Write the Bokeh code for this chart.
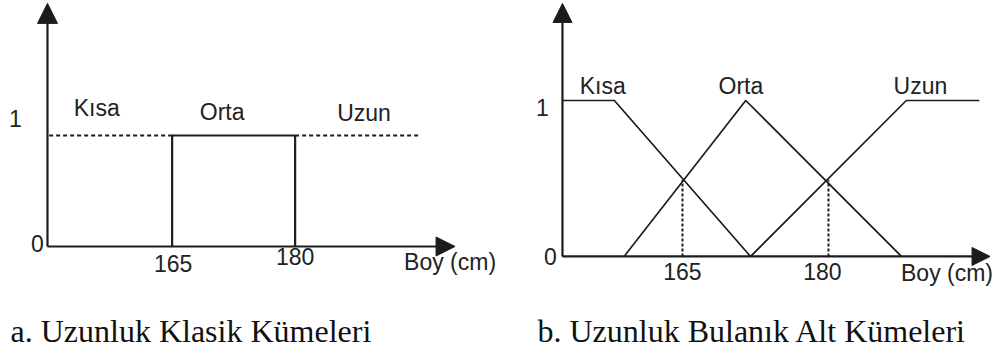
from bokeh.plotting import figure
from bokeh.layouts import row
from bokeh.models import Range1d, Arrow, NormalHead
from bokeh.core.properties import value
from bokeh.embed import file_html
from bokeh.resources import INLINE

# ---------------- data ----------------
set_names = ["Kısa", "Orta", "Uzun"]
x_ticks = [165, 180]
x_tick_labels = ["165", "180"]
y_ticks = [0, 1]
y_tick_labels = ["0", "1"]
x_title = "Boy (cm)"

# (a) crisp sets
crisp_kisa_x = [150, 165]
crisp_kisa_y = [1, 1]
crisp_orta_x = [165, 165, 180, 180]
crisp_orta_y = [0, 1, 1, 0]
crisp_uzun_x = [180, 195.2]
crisp_uzun_y = [1, 1]

# (b) fuzzy subsets
fuzzy_kisa_x = [152.7, 158, 172]
fuzzy_kisa_y = [1, 1, 0]
fuzzy_orta_x = [159, 171.5, 187.5]
fuzzy_orta_y = [0, 1, 0]
fuzzy_uzun_x = [172, 188, 195.5]
fuzzy_uzun_y = [0, 1, 1]
cross_y = [0.49, 0.49]

captions = ["a. Uzunluk Klasik Kümeleri", "b. Uzunluk Bulanık Alt Kümeleri"]

# ---------------- style ----------------
INK = "#1c1c1c"
TXT = "#222222"
SANS = value("Liberation Sans")
SERIF = value("Liberation Serif")
FS = "23px"
W, H = 499, 355


def base_fig(xr, yr):
    p = figure(width=W, height=H, output_backend="svg", toolbar_location=None,
               x_axis_location=None, y_axis_location=None,
               x_range=Range1d(*xr), y_range=Range1d(*yr), min_border=0)
    p.grid.visible = False
    p.outline_line_color = None
    p.background_fill_color = "white"
    p.border_fill_color = "white"
    return p


def axes(p, x0, x_tip, y_tip, hsize):
    p.add_layout(Arrow(end=NormalHead(size=hsize, fill_color=INK, line_color=INK, line_width=1),
                       x_start=x0, y_start=0, x_end=x_tip, y_end=0,
                       line_color=INK, line_width=2.2))
    p.add_layout(Arrow(end=NormalHead(size=hsize + 1, fill_color=INK, line_color=INK, line_width=1),
                       x_start=x0, y_start=0, x_end=x0, y_end=y_tip,
                       line_color=INK, line_width=2.2))


# ---------------- (a) ----------------
ax0 = 149.8
pa = base_fig((144.07, 204.92), (-0.982, 2.216))
axes(pa, ax0, 199.5, 2.19, 19)
pa.line(crisp_kisa_x, crisp_kisa_y, line_color=INK, line_width=2, line_dash="4 3")
pa.line(crisp_orta_x, crisp_orta_y, line_color=INK, line_width=2.2)
pa.line(crisp_uzun_x, crisp_uzun_y, line_color=INK, line_width=2, line_dash="4 3")

pa.text(x=[ax0, ax0], y=y_ticks[::-1], text=y_tick_labels[::-1], text_font=SANS,
        text_font_size=FS, text_color=TXT, text_align="center", text_baseline="middle",
        x_offset=[-32, -10], y_offset=[-17, -3])
pa.text(x=x_ticks, y=[0, 0], text=x_tick_labels, text_font=SANS, text_font_size=FS,
        text_color=TXT, text_align="center", text_baseline="middle",
        x_offset=[1, 0], y_offset=[17, 10])
pa.text(x=[199.5], y=[0], text=[x_title], text_font=SANS, text_font_size=FS,
        text_color=TXT, text_align="center", text_baseline="middle",
        x_offset=[-5], y_offset=[16])
pa.text(x=[155.8, 171.1, 188.4], y=[1, 1, 1], text=set_names, text_font=SANS,
        text_font_size=FS, text_color=TXT, text_align="center", text_baseline="middle",
        y_offset=[-27, -23, -22])
pa.text(x=[ax0], y=[0], text=[captions[0]], text_font=SERIF, text_font_size="32px",
        text_color="#111111", text_align="left", text_baseline="middle",
        x_offset=[-37], y_offset=[85])

# ---------------- (b) ----------------
bx0 = 152.67
pb = base_fig((146.2, 197.47), (-0.635, 1.641))
axes(pb, bx0, 196.6, 1.622, 18)
for xs, ys in [(fuzzy_kisa_x, fuzzy_kisa_y), (fuzzy_orta_x, fuzzy_orta_y), (fuzzy_uzun_x, fuzzy_uzun_y)]:
    pb.line(xs, ys, line_color=INK, line_width=1.7)
pb.segment(x0=x_ticks, y0=[0, 0], x1=x_ticks, y1=cross_y, line_color=INK,
           line_width=2, line_dash="3 2")

pb.text(x=[bx0, bx0], y=y_ticks[::-1], text=y_tick_labels[::-1], text_font=SANS,
        text_font_size=FS, text_color=TXT, text_align="center", text_baseline="middle",
        x_offset=[-20, -12], y_offset=[7, 0])
pb.text(x=x_ticks, y=[0, 0], text=x_tick_labels, text_font=SANS, text_font_size=FS,
        text_color=TXT, text_align="center", text_baseline="middle",
        x_offset=[0, -6], y_offset=[15, 15])
pb.text(x=[196.6], y=[0], text=[x_title], text_font=SANS, text_font_size=FS,
        text_color=TXT, text_align="center", text_baseline="middle",
        x_offset=[-43], y_offset=[17])
pb.text(x=[156.8, 171.0, 189.45], y=[1, 1, 1], text=set_names, text_font=SANS,
        text_font_size=FS, text_color=TXT, text_align="center", text_baseline="middle",
        y_offset=[-14, -14, -14])
pb.text(x=[bx0], y=[0], text=[captions[1]], text_font=SERIF, text_font_size="32px",
        text_color="#111111", text_align="left", text_baseline="middle",
        x_offset=[-25], y_offset=[75])

layout = row(pa, pb)

open("out.html", "w").write(file_html(layout, INLINE))
